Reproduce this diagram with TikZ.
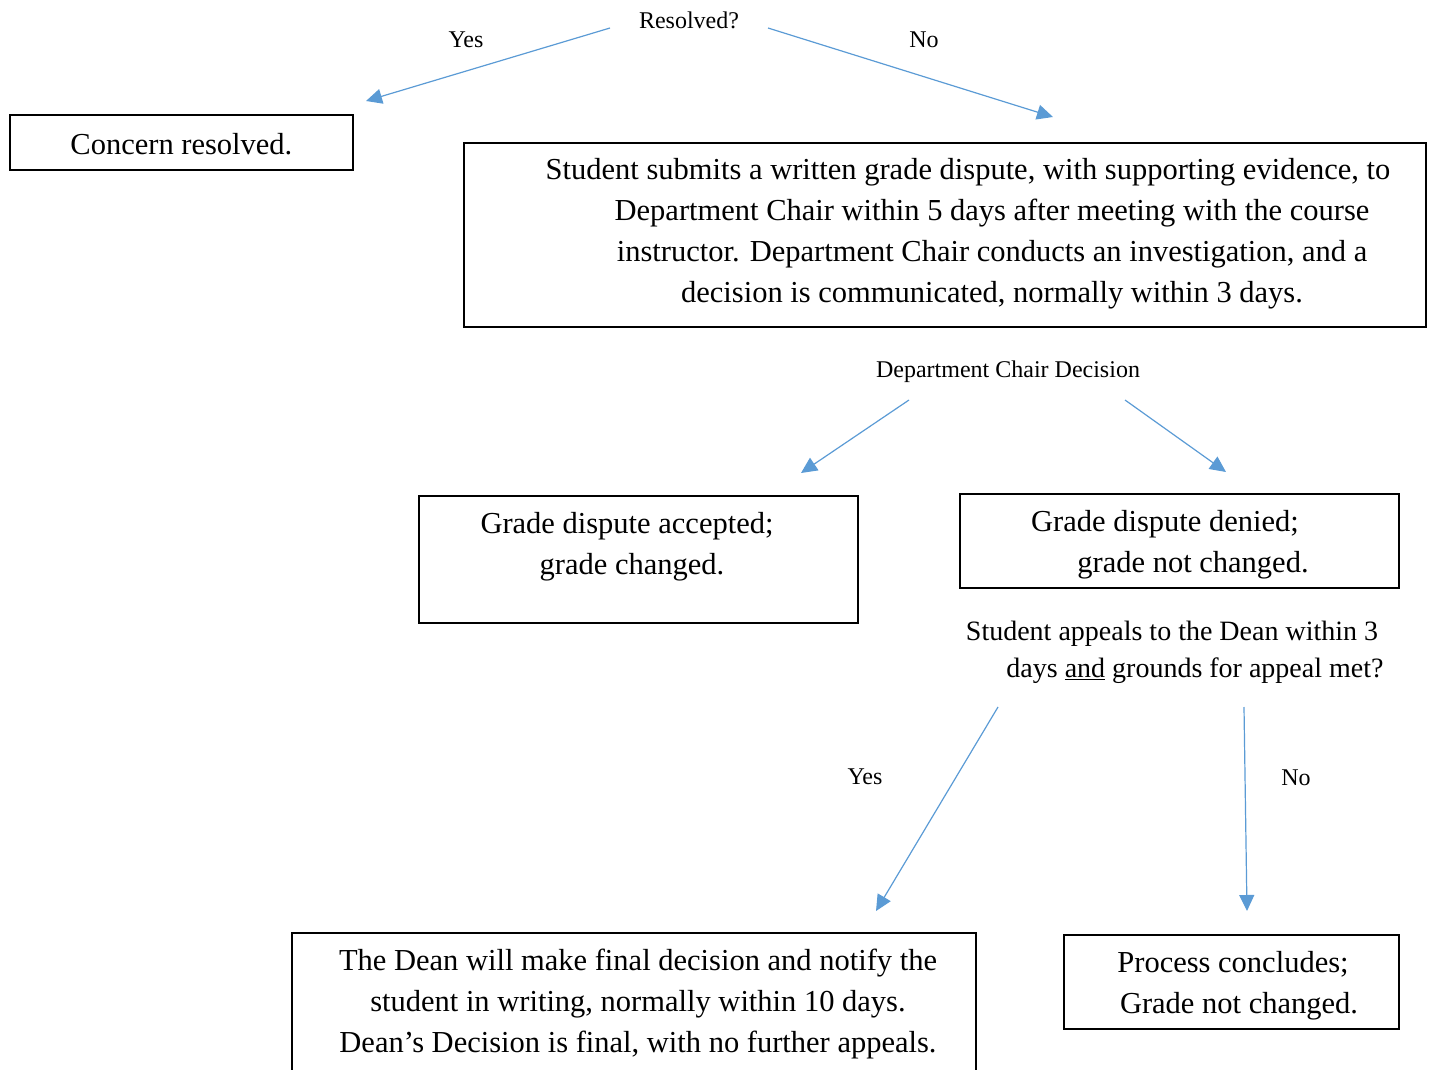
\documentclass[tikz,border=0pt]{standalone}
\usepackage{fontspec}
\setmainfont{Liberation Serif}
\usetikzlibrary{arrows.meta}

\begin{document}
\begin{tikzpicture}[x=1pt,y=-1pt,
  box/.style={draw,line width=1.8pt,anchor=north west,inner sep=0pt},
  boxtext/.style={align=center,inner sep=0pt,font=\fontsize{30.5}{41}\selectfont},
  asktext/.style={align=center,inner sep=0pt,font=\fontsize{28}{37}\selectfont},
  choice/.style={inner sep=0pt,font=\fontsize{24}{28}\selectfont},
  flow/.style={draw={rgb,255:red,91;green,155;blue,213},line width=1.2pt,
    -{Triangle[length=16pt,width=15pt]}}]
  \useasboundingbox (0,0) rectangle (1433,1070);

  %top
  \node[choice] (resolvedq) at (689,20) {Resolved?};
  \node[choice] (yesa) at (466,40) {Yes};
  \node[choice] (noa) at (924,40) {No};
  \coordinate (resolvedl) at (610,28);
  \coordinate (resolvedr) at (768,28);
  \coordinate (concernin) at (366,101);
  \coordinate (chairin) at (1053,117);

  \node[box,minimum width=343pt,minimum height=55pt] (concern) at (9,114) {};
  \node[boxtext,at=(concern.center),yshift=-2pt] (concerntext) {Concern resolved.};

  \node[box,minimum width=962pt,minimum height=184pt] (chair) at (463,142) {};
  \node[boxtext] (chairtext) at (992,234) {Student submits a written grade dispute, with supporting evidence, to\hspace*{48pt}\\
    Department Chair within 5 days after meeting with the course\\
    instructor. Department Chair conducts an investigation, and a\\
    decision is communicated, normally within 3 days.};

  %middle
  \node[choice] (chairdecision) at (1008,372) {Department Chair Decision};
  \coordinate (decisionl) at (909,400);
  \coordinate (decisionr) at (1125,400);
  \coordinate (acceptin) at (801,473);
  \coordinate (denyin) at (1226,472);

  \node[box,minimum width=439pt,minimum height=127pt] (accept) at (418,495) {};
  \node[boxtext] (accepttext) at (632,547) {Grade dispute accepted;\hspace*{10pt}\\grade changed.};

  \node[box,minimum width=439pt,minimum height=94pt] (deny) at (959,493) {};
  \node[boxtext] (denytext) at (1193,544.5) {Grade dispute denied;\hspace*{56pt}\\grade not changed.};

  \node[asktext] (appeal) at (1195,652) {Student appeals to the Dean within 3\hspace*{46pt}\\
    days \underline{and} grounds for appeal met?};

  %bottom
  \coordinate (appeall) at (998,707);
  \coordinate (appealr) at (1244,707);
  \coordinate (deanin) at (876,911);
  \coordinate (endin) at (1247,911);
  \node[choice] (yesb) at (865,777) {Yes};
  \node[choice] (nob) at (1296,778) {No};

  \node[box,minimum width=684pt,minimum height=160pt] (dean) at (291,932) {};
  \node[boxtext] (deantext) at (638,1004) {The Dean will make final decision and notify the\\
    student in writing, normally within 10 days.\\
    Dean’s Decision is final, with no further appeals.};

  \node[box,minimum width=335pt,minimum height=94pt] (conclude) at (1063,934) {};
  \node[boxtext] (concludetext) at (1239,985.5) {Process concludes;\hspace*{12pt}\\Grade not changed.};

  %connectors
  \draw[flow] (resolvedl) -- (concernin);
  \draw[flow] (resolvedr) -- (chairin);
  \draw[flow] (decisionl) -- (acceptin);
  \draw[flow] (decisionr) -- (denyin);
  \draw[flow] (appeall) -- (deanin);
  \draw[flow] (appealr) -- (endin);
\end{tikzpicture}
\end{document}
